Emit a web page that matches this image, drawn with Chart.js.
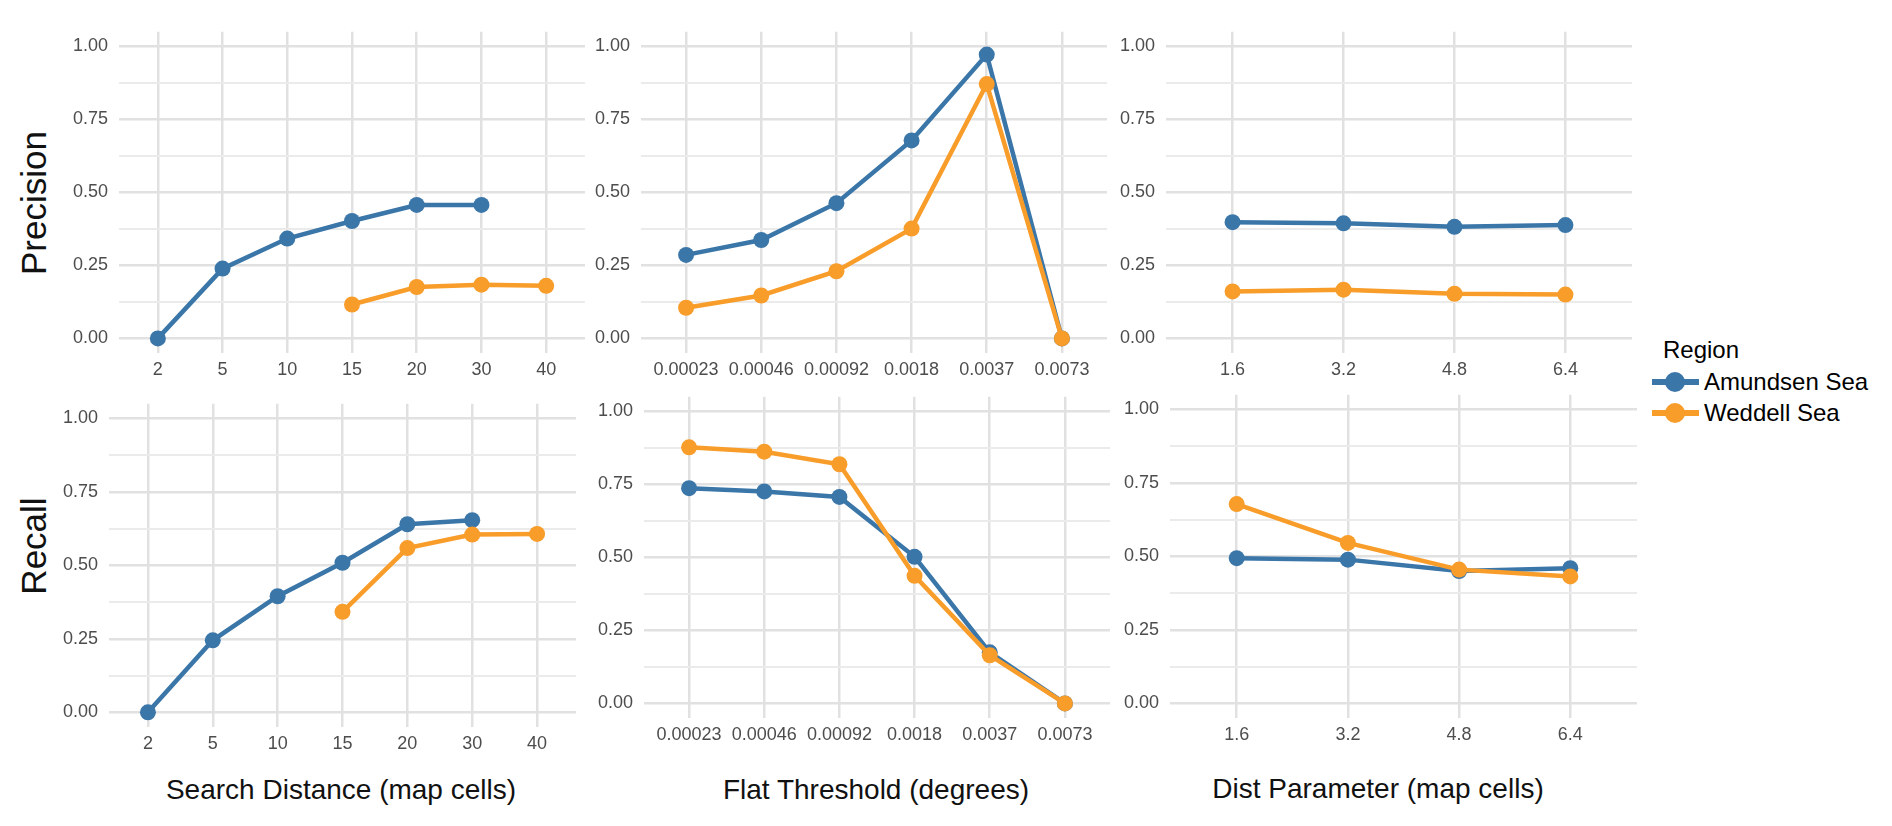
<!DOCTYPE html>
<html>
<head>
<meta charset="utf-8">
<script src="https://cdn.jsdelivr.net/npm/chart.js@4.4.1/dist/chart.umd.min.js"></script>
<style>
  body { margin: 0; background: #fff; width: 1892px; height: 826px; overflow: hidden; position: relative;
         font-family: "Liberation Sans", Arial, sans-serif; }
  .panel { position: absolute; }
  .lbl { position: absolute; white-space: nowrap; color: #111; line-height: 1; }
  .row { font-size: 35px; transform: translate(-50%, -50%) rotate(-90deg); }
  .xt { font-size: 28px; transform: translate(-50%, -50%); }
  .key { position: absolute; width: 47px; height: 20px; }
  .key .ln { position: absolute; left: 0; right: 0; top: 7px; height: 6px; }
  .key .pt { position: absolute; left: 13px; top: 0; width: 20px; height: 20px; border-radius: 50%; }
</style>
</head>
<body>

<div class="lbl row" style="left:33px; top:203px;">Precision</div>
<div class="lbl row" style="left:33px; top:546px;">Recall</div>

<div class="lbl xt" style="left:341px; top:790px;">Search Distance (map cells)</div>
<div class="lbl xt" style="left:876px; top:790px;">Flat Threshold (degrees)</div>
<div class="lbl xt" style="left:1378px; top:789px;">Dist Parameter (map cells)</div>

<div id="legend"></div>

<script>
// categories / tick labels
const regions = ['Amundsen Sea', 'Weddell Sea'];
const searchLabels = ['2', '5', '10', '15', '20', '30', '40'];
const flatLabels = ['0.00023', '0.00046', '0.00092', '0.0018', '0.0037', '0.0073'];
const distLabels = ['1.6', '3.2', '4.8', '6.4'];
const yTicks = [0, 0.25, 0.5, 0.75, 1];
const yMinor = [0.125, 0.375, 0.625, 0.875];

// precision
const precSearchAmundsen = [0.00, 0.239, 0.342, 0.402, 0.457, 0.457, null];
const precSearchWeddell  = [null, null, null, 0.116, 0.176, 0.184, 0.180];
const precFlatAmundsen   = [0.286, 0.337, 0.463, 0.678, 0.972, 0.00];
const precFlatWeddell    = [0.105, 0.147, 0.230, 0.376, 0.871, 0.00];
const precDistAmundsen   = [0.398, 0.394, 0.382, 0.388];
const precDistWeddell    = [0.161, 0.167, 0.153, 0.150];

// recall
const recSearchAmundsen = [0.00, 0.245, 0.395, 0.509, 0.640, 0.654, null];
const recSearchWeddell  = [null, null, null, 0.342, 0.559, 0.605, 0.607];
const recFlatAmundsen   = [0.737, 0.726, 0.707, 0.502, 0.175, 0.00];
const recFlatWeddell    = [0.877, 0.862, 0.819, 0.437, 0.165, 0.00];
const recDistAmundsen   = [0.494, 0.489, 0.450, 0.460];
const recDistWeddell    = [0.678, 0.546, 0.455, 0.432];

const colors = ['#3B76A9', '#F89C2A'];
const gridMajor = '#e1e1e1';
const gridMinor = '#ebebeb';
const tickColor = '#4d4d4d';

// plot areas (chart area in page px): left, top, right, bottom
const panels = [
  { box: [119, 25, 585, 353],    labels: searchLabels, data: [precSearchAmundsen, precSearchWeddell] },
  { box: [641, 25, 1107, 353],   labels: flatLabels,   data: [precFlatAmundsen, precFlatWeddell] },
  { box: [1166, 25, 1632, 353],  labels: distLabels,   data: [precDistAmundsen, precDistWeddell] },
  { box: [109, 397, 576, 727],   labels: searchLabels, data: [recSearchAmundsen, recSearchWeddell] },
  { box: [644, 390, 1110, 718],  labels: flatLabels,   data: [recFlatAmundsen, recFlatWeddell] },
  { box: [1170, 388, 1637, 718], labels: distLabels,   data: [recDistAmundsen, recDistWeddell] }
];

const AXIS_W = 70, AXIS_H = 40, PAD_T = 15, PAD_R = 6;

function toPoints(values) {
  const pts = [];
  values.forEach((v, i) => { if (v !== null) pts.push({ x: i, y: v }); });
  return pts;
}

function makePanel(p, idx) {
  const [l, t, r, b] = p.box;
  const canvas = document.createElement('canvas');
  canvas.className = 'panel';
  const w = (r - l) + AXIS_W + PAD_R;
  const h = (b - t) + PAD_T + AXIS_H;
  canvas.style.left = (l - AXIS_W) + 'px';
  canvas.style.top = (t - PAD_T) + 'px';
  canvas.style.width = w + 'px';
  canvas.style.height = h + 'px';
  canvas.width = w;
  canvas.height = h;
  document.body.appendChild(canvas);

  const labels = p.labels;
  new Chart(canvas, {
    type: 'line',
    data: {
      datasets: regions.map((name, k) => ({
        label: name,
        data: toPoints(p.data[k]),
        borderColor: colors[k],
        backgroundColor: colors[k],
        pointBackgroundColor: colors[k],
        pointBorderWidth: 0,
        pointRadius: 8,
        pointHoverRadius: 8,
        borderWidth: 4.5,
        tension: 0,
        order: k === 0 ? 2 : 1
      }))
    },
    options: {
      responsive: false,
      animation: false,
      events: [],
      layout: { padding: { top: PAD_T, right: PAD_R, left: 0, bottom: 0 }, autoPadding: false },
      plugins: { legend: { display: false }, tooltip: { enabled: false } },
      scales: {
        x: {
          type: 'linear',
          min: -0.6,
          max: labels.length - 0.4,
          afterBuildTicks: s => { s.ticks = labels.map((_, i) => ({ value: i })); },
          afterFit: s => { s.height = AXIS_H; },
          border: { display: false },
          grid: { color: gridMajor, lineWidth: 2.5, drawTicks: false },
          ticks: {
            autoSkip: false, maxRotation: 0, padding: 6,
            color: tickColor, font: { family: 'Liberation Sans', size: 18 },
            callback: v => labels[v]
          }
        },
        y: {
          min: -0.05,
          max: 1.05,
          afterBuildTicks: s => {
            s.ticks = yTicks.concat(yMinor).sort((a, c) => a - c).map(v => ({ value: v }));
          },
          afterFit: s => { s.width = AXIS_W; },
          border: { display: false },
          grid: {
            drawTicks: false,
            color: c => (c.tick && yTicks.includes(c.tick.value)) ? gridMajor : gridMinor,
            lineWidth: c => (c.tick && yTicks.includes(c.tick.value)) ? 2.5 : 2
          },
          ticks: {
            padding: 11, color: tickColor, font: { family: 'Liberation Sans', size: 18 },
            callback: v => yTicks.includes(v) ? v.toFixed(2) : ''
          }
        }
      }
    }
  });
}

panels.forEach(makePanel);

// legend
const legend = document.getElementById('legend');
legend.innerHTML =
  '<div class="lbl" style="left:1663px; top:338px; font-size:24px; color:#000;">Region</div>' +
  regions.map((name, k) => {
    const cy = 382 + k * 31;
    return '<div class="key" style="left:1652px; top:' + (cy - 10) + 'px;">' +
             '<div class="ln" style="background:' + colors[k] + '"></div>' +
             '<div class="pt" style="background:' + colors[k] + '"></div></div>' +
           '<div class="lbl" style="left:1704px; top:' + (cy - 12) + 'px; font-size:24px; color:#000;">' + name + '</div>';
  }).join('');
</script>
</body>
</html>
